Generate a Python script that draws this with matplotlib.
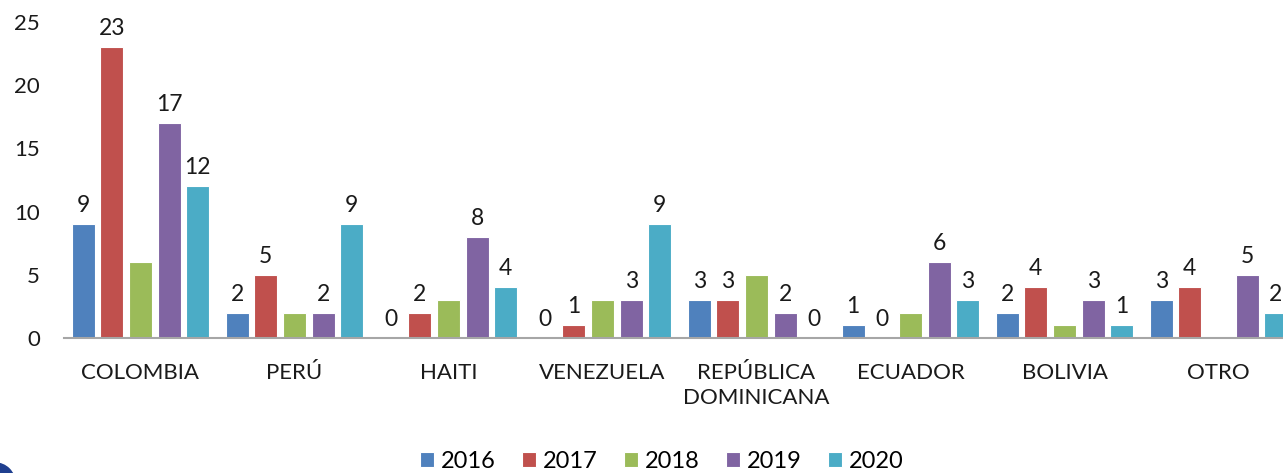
import numpy as np
import matplotlib
matplotlib.use('Agg')
import matplotlib.pyplot as plt
from matplotlib.patches import Circle

# data
categories = ['COLOMBIA', 'PERÚ', 'HAITI', 'VENEZUELA', 'REPÚBLICA\nDOMINICANA',
              'ECUADOR', 'BOLIVIA', 'OTRO']
years = ['2016', '2017', '2018', '2019', '2020']
v2016 = [9, 2, 0, 0, 3, 1, 2, 3]
v2017 = [23, 5, 2, 1, 3, 0, 4, 4]
v2018 = [6, 2, 3, 3, 5, 2, 1, 0]
v2019 = [17, 2, 8, 3, 2, 6, 3, 5]
v2020 = [12, 9, 4, 9, 0, 3, 1, 2]
series = [v2016, v2017, v2018, v2019, v2020]
show_labels = [True, True, False, True, True]  # 2018 has no data labels
colors = ['#4F81BD', '#C0504D', '#9BBB59', '#8064A2', '#4BACC6']

plt.rcParams['font.family'] = ['Lato', 'DejaVu Sans']

fig = plt.figure(figsize=(12.83, 4.73), dpi=100)
ax = fig.add_axes([63.5 / 1283, 135 / 473, 1232 / 1283, 316 / 473])

x = np.arange(len(categories))
slot = 0.186
width = 0.15
for i, (vals, yr) in enumerate(zip(series, years)):
    pos = x + (i - 2) * slot
    ax.bar(pos, vals, width=width, color=colors[i], edgecolor='white',
           linewidth=0.8, label=yr)
    if show_labels[i]:
        for p, v in zip(pos, vals):
            ax.annotate(str(v), (p, v), xytext=(0, 8), textcoords='offset pixels',
                        ha='center', va='bottom', fontsize=16.5, color='#1a1a1a')

ax.set_xlim(-0.5, 7.5)
ax.set_ylim(0, 25)
ax.set_yticks([0, 5, 10, 15, 20, 25])
ax.set_xticks(x)
ax.set_xticklabels(categories, fontsize=16, color='#1a1a1a', linespacing=1.3)
ax.tick_params(axis='y', length=0, pad=17, labelsize=16, labelcolor='#1a1a1a')
ax.tick_params(axis='x', length=0, pad=18)
for s in ['top', 'right', 'left']:
    ax.spines[s].set_visible(False)
ax.spines['bottom'].set_color('#a6a6a6')
ax.spines['bottom'].set_linewidth(1.5)

fig.legend(loc='center', bbox_to_anchor=(662 / 1283, 1 - 461 / 473), ncol=5,
           frameon=False, fontsize=17, handlelength=0.6, handleheight=0.6,
           handletextpad=0.3, columnspacing=1.1)

# small decorative arc in the bottom-left corner
fig.patches.append(Circle((-5, -10), 20, transform=None,
                          color='#1f3f8f', clip_on=False))

fig.savefig('out.png', dpi=100)
